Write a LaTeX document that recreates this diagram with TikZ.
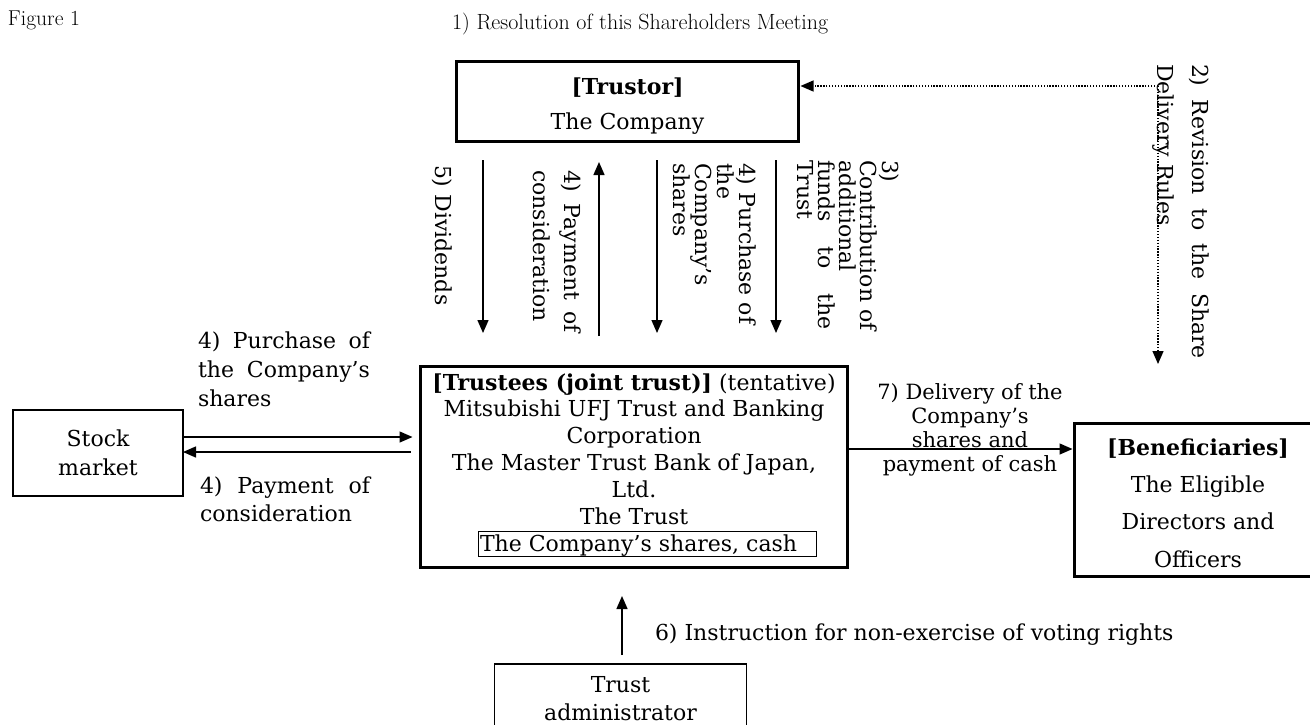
\documentclass[tikz,border=0pt]{standalone}
\usepackage{fontspec}
\newfontfamily\dv{DejaVu Serif}
\usetikzlibrary{arrows.meta}
\begin{document}
\begin{tikzpicture}[x=1pt,y=-1pt,
  every node/.style={inner sep=0pt, outer sep=0pt, font=\dv\fontsize{22}{26.8}\selectfont},
  bigbox/.style={draw, line width=3pt},
  smallbox/.style={draw, line width=1.6pt},
  arr/.style={line width=1.4pt, -{Triangle[length=13pt,width=11pt]}},
  dotarr/.style={line width=1.3pt, dash pattern=on 1.3pt off 1.6pt, -{Triangle[length=13pt,width=11pt]}},
  vlab/.style={rotate=-90, anchor=base west, align=left},
  hlab/.style={anchor=base west, align=left},
  lm/.style={font=\rmfamily\fontsize{22}{26}\selectfont}
]
\clip (0,0) rectangle (1310,724);

% header texts (anchor = baseline)
\node[hlab, font=\rmfamily\fontsize{21.5}{26}\selectfont] (fig) at (8,25) {Figure 1};
\node[hlab, lm] (res) at (452,29) {1) Resolution of this Shareholders Meeting};

% boxes (multi-line labels are anchored at the baseline of their LAST line)
\node[bigbox, minimum width=342pt, minimum height=80pt] (trustor) at (627.5,101.5) {};
\node[anchor=base, align=center, font=\dv\fontsize{22}{35}\selectfont] (trustorlbl) at (627.5,129) {\textbf{[Trustor]}\\The Company};

\node[bigbox, minimum width=427pt, minimum height=201pt] (trustees) at (634,467) {};
\node[anchor=base, align=center] (trusteeslbl) at (634,524)
  {\textbf{[Trustees (joint trust)]} (tentative)\\Mitsubishi UFJ Trust and Banking\\Corporation\\The Master Trust Bank of Japan,\\Ltd.\\The Trust};
\node[draw, line width=1.3pt, minimum width=338pt, minimum height=25pt] (asset) at (647.5,544) {};
\node[hlab] (assetlbl) at (480,551) {The Company’s shares, cash};

\node[smallbox, minimum width=170pt, minimum height=86pt, align=center, font=\dv\fontsize{22}{29}\selectfont] (stock) at (98,453) {Stock\\market};

\node[bigbox, minimum width=255pt, minimum height=153pt] (benef) at (1202,500) {};
\node[anchor=base, align=center, font=\dv\fontsize{22}{37.3}\selectfont] (beneflbl) at (1198,567)
  {\textbf{[Beneficiaries]}\\The Eligible\\Directors and\\Officers};

\node[smallbox, minimum width=252pt, minimum height=96pt] (admin) at (620.5,711.8) {};
\node[anchor=base, align=center, font=\dv\fontsize{22}{28}\selectfont] (adminlbl) at (620.5,720) {Trust\\administrator};

% dotted connector (2)
\coordinate (corner) at (1158,86);
\coordinate (revend) at (1158,364);
\draw[dotarr, shorten >=2pt] (corner) -- (corner -| trustor.east);
\draw[dotarr] (corner) -- (revend);

% vertical arrows between trustor and trustees
\coordinate (d5s) at (483,160); \coordinate (d5e) at (483,333);
\coordinate (p4s) at (599,336); \coordinate (p4e) at (599,162);
\coordinate (b4s) at (657,160); \coordinate (b4e) at (657,333);
\coordinate (c3s) at (776,160); \coordinate (c3e) at (776,333);
\draw[arr] (d5s) -- (d5e);
\draw[arr] (p4s) -- (p4e);
\draw[arr] (b4s) -- (b4e);
\draw[arr] (c3s) -- (c3e);

% horizontal arrows
\draw[arr, shorten >=8pt] (stock.east |- 0,437) -- (trustees.west |- 0,437);
\draw[arr, shorten <=10pt] (trustees.west |- 0,452) -- (stock.east |- 0,452);
\draw[arr, shorten >=2pt] (trustees.east |- 0,449) -- (benef.west |- 0,449);

% instruction arrow
\coordinate (i6s) at (622,655); \coordinate (i6e) at (622,596);
\draw[arr] (i6s) -- (i6e);

% vertical labels (anchor = baseline of last line)
\node[vlab, font=\dv\fontsize{22}{26}\selectfont] (lab5) at (435,165) {5) Dividends};
\node[vlab, font=\dv\fontsize{22}{31}\selectfont] (lab4pay) at (533,170) {\makebox[163pt][s]{4) Payment of}\\consideration};
\node[vlab, font=\dv\fontsize{22}{22}\selectfont] (lab4pur) at (673,163) {4) Purchase of\\the\\Company’s\\shares};
\node[vlab, font=\dv\fontsize{22}{21.25}\selectfont] (lab3) at (797,160) {3)\\Contribution of\\additional\\\makebox[170pt][s]{funds to the}\\Trust};
\node[vlab, font=\dv\fontsize{22}{35}\selectfont] (lab2) at (1157,64) {\makebox[295pt][s]{2) Revision to the Share}\\Delivery Rules};

% horizontal labels
\node[hlab, font=\dv\fontsize{22}{29}\selectfont] (labbuy) at (198,406) {\makebox[172pt][s]{4) Purchase of}\\\makebox[172pt][s]{the Company’s}\\shares};
\node[hlab, font=\dv\fontsize{22}{28}\selectfont] (labpay) at (200,521) {\makebox[170pt][s]{4) Payment of}\\consideration};
\node[anchor=base, align=center, font=\dv\fontsize{21}{23.7}\selectfont] (lab7) at (970,471) {7) Delivery of the\\Company’s\\shares and\\payment of cash};
\node[hlab] (lab6) at (655,640) {6) Instruction for non-exercise of voting rights};
\end{tikzpicture}
\end{document}
